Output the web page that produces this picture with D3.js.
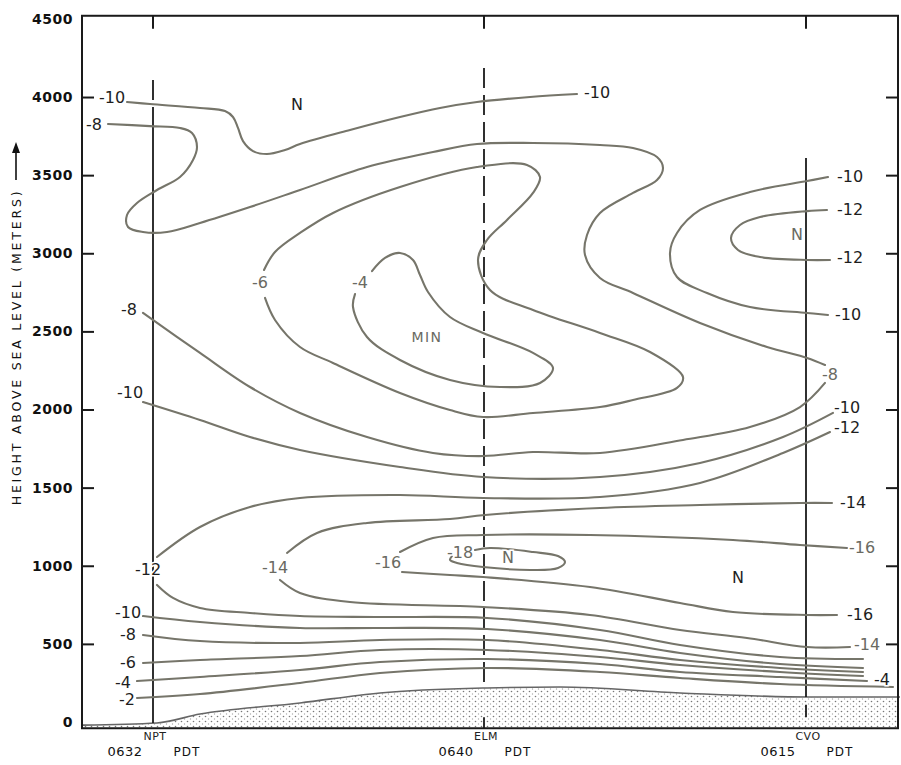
<!DOCTYPE html>
<html>
<head>
<meta charset="utf-8">
<script src="https://cdn.jsdelivr.net/npm/d3@7"></script>
<style>
  body { margin: 0; background: #fff; }
  svg { display: block; }
  text { font-family: "DejaVu Sans", sans-serif; }
</style>
</head>
<body>
<svg id="chart" width="901" height="765"></svg>
<script>
// height above sea level in metres, x = distance along the section (arbitrary units)
var yTicks = [0, 500, 1000, 1500, 2000, 2500, 3000, 3500, 4000, 4500];
var stations = ["NPT", "ELM", "CVO"];
var stationTimes = ["0632", "0640", "0615"];
var stationX = [18.25, 101, 181.5];
var stationDashed = [[4109, 3866], [4186, 218], null];
var stationSolid = [[3866, -6], null, [3610, 160]];
var stationBelow = [null, [30, -40], [110, 30]];

var ground = [[0.5,-20],[19.25,-6],[30,51],[55,122],[75,186],[101.75,218],[120,224],[150,186],[182.5,160],[205,160]];

// isotherms (deg C)
var c10Top = [[11.75,3968],[17.5,3955],[30,3930],[36.25,3910],[38.25,3872],[39.5,3802],[40.75,3718],[43.25,3654],[46.75,3635],[51.25,3661],[55,3699],[67.5,3789],[80,3872],[90,3930],[99.25,3968],[112.5,4000],[124.25,4019]];
var c8Upper = [[7,3827],[17.5,3814],[25,3802],[28,3770],[29.25,3680],[28.25,3597],[25,3488],[19.25,3405],[14.25,3322],[11.75,3245],[12,3168],[15.75,3136],[21.75,3136],[30,3194],[42.5,3296],[55,3405],[71.75,3552],[88.25,3648],[99.25,3699],[113.25,3706],[130,3693],[138.25,3674],[144.25,3616],[145.75,3546],[144.25,3469],[138.25,3386],[130,3258],[126.75,3117],[126.25,2989],[130,2842],[138.25,2746],[155,2554],[171.75,2400],[181.75,2330],[186.25,2285]];
var c8Lower = [[186.25,2170],[180,2016],[167.5,1888],[150.75,1805],[130,1722],[113.25,1728],[100.75,1702],[88.25,1722],[71.75,1824],[55,1978],[42.5,2144],[30,2362],[15.75,2618]];
var c6 = [[46,2893],[48.75,3008],[55,3130],[63.25,3258],[80,3424],[99.25,3552],[111.75,3565],[115,3488],[113.25,3386],[106.75,3213],[101.75,3085],[99.5,2957],[102.5,2765],[113.25,2637],[130,2490],[142.5,2368],[150.75,2208],[149.25,2138],[138.25,2061],[130,2016],[113.25,1978],[100.75,1952],[92.5,1997],[80,2106],[63.25,2298],[55,2400],[48.75,2573],[46.25,2714]];
var c4 = [[73,2886],[76.25,2970],[80,3002],[83.25,2957],[85,2861],[87,2752],[92.5,2592],[100.75,2490],[113.25,2362],[118.25,2266],[115,2170],[105,2144],[92.5,2189],[80,2317],[71.75,2464],[68.25,2656],[68.75,2739]];
var c10Right = [[187,3488],[181.75,3462],[167.5,3392],[155,3277],[149.25,3130],[147.5,3002],[149.25,2848],[156.75,2746],[167.5,2656],[181.75,2618],[187,2605]];
var c12Right = [[186.75,3277],[181.75,3270],[170,3232],[165,3181],[162.75,3098],[164.5,3021],[170,2976],[181.75,2957],[187.5,2957]];
var c10Mid = [[15.75,2048],[30,1933],[42.5,1824],[55,1741],[80,1632],[100.75,1568],[130,1568],[155,1658],[175.75,1824],[188.25,1978]];
var c12Upper = [[19.25,1056],[30,1248],[42.5,1376],[55,1434],[80,1453],[100.75,1434],[130,1440],[155,1530],[175.75,1722],[187.5,1856]];
var c12Lower = [[19.25,877],[23.25,794],[30,730],[42.5,698],[55,678],[75,672],[101.75,666],[130,589],[150,493],[175,416],[195.75,403]];
var c14Upper = [[51.75,1082],[59.25,1210],[71.75,1274],[92.5,1299],[101.25,1325],[130,1370],[155,1389],[180,1402],[188,1402]];
var c14Lower = [[50,909],[55,826],[67.5,768],[100.75,736],[127.5,685],[150,589],[166.75,538],[181.75,480],[192.5,480]];
var c16Upper = [[80,1088],[88.25,1178],[100.75,1197],[127.5,1197],[163.25,1165],[180,1133],[191.75,1114]];
var c16Lower = [[80.5,960],[92.5,941],[100.75,928],[127.5,864],[150,762],[163.25,704],[181.75,685],[189.25,685]];
var c18 = [[98.75,1101],[102.5,1114],[113.25,1088],[119.5,1062],[121.25,1024],[119.5,986],[113.25,973],[100.75,992],[94.25,1018],[92.5,1037],[93,1062]];
var c10Low = [[15.75,678],[30,640],[55,602],[75,602],[101.75,595],[130,525],[150,442],[175,371],[195.75,346]];
var c8Low = [[15.75,557],[30,518],[55,506],[75,525],[101.75,525],[130,461],[150,397],[175,346],[195.75,320]];
var c6Low = [[15.75,378],[30,397],[55,422],[75,461],[101.75,461],[130,416],[150,365],[175,320],[195.75,294]];
var c4Low = [[14.25,262],[30,288],[55,333],[75,384],[101.75,403],[130,371],[150,320],[175,288],[196.75,262]];
var c2Low = [[14.25,154],[30,179],[55,250],[75,314],[101.75,346],[130,320],[150,282],[175,243],[203.25,224]];

// contour labels: text, x, height, grey
var labels = [
  ["-10", 8, 4000, 0], ["-8", 3.5, 3827, 0], ["N", 54.25, 3955, 0], ["-10", 129.25, 4026, 0],
  ["-6", 45, 2810, 1], ["-4", 70, 2810, 1], ["MIN", 86.75, 2464, 1],
  ["-8", 12.25, 2637, 0], ["-10", 12.5, 2112, 0],
  ["-10", 192.5, 3494, 0], ["-12", 192.5, 3277, 0], ["N", 179.25, 3117, 1], ["-12", 192.5, 2976, 0], ["-10", 192, 2611, 0],
  ["-8", 187.5, 2221, 1], ["-10", 191.75, 2016, 0], ["-12", 191.75, 1882, 0], ["-14", 193.25, 1408, 0],
  ["-12", 17, 973, 0], ["-14", 48.75, 986, 1], ["-16", 77, 1018, 1], ["-18", 95, 1088, 1], ["N", 107, 1056, 1],
  ["-16", 195.5, 1114, 1], ["N", 164.5, 928, 0], ["-16", 195, 685, 0], ["-14", 196.75, 499, 1], ["-4", 200.5, 269, 0],
  ["-10", 12, 698, 0], ["-8", 12, 557, 0], ["-6", 12, 378, 0], ["-4", 10.75, 256, 0], ["-2", 11.75, 141, 0]
];

var svg = d3.select("#chart");
var x = d3.scaleLinear().domain([0, 205]).range([80, 900]);
var y = d3.scaleLinear().domain([0, 4500]).range([722, 18.9]);

var frameL = x(0.5), frameR = x(204.5), frameT = y(4520), frameB = y(-40);

// dotted terrain
var pat = svg.append("defs").append("pattern")
    .attr("id", "dots").attr("width", 6).attr("height", 5)
    .attr("patternUnits", "userSpaceOnUse");
pat.append("circle").attr("cx", 1.5).attr("cy", 1.5).attr("r", 0.8).attr("fill", "#777");
pat.append("circle").attr("cx", 4.5).attr("cy", 4).attr("r", 0.7).attr("fill", "#aaa");

var area = d3.area()
    .x(function(d) { return x(d[0]); })
    .y0(frameB)
    .y1(function(d) { return y(d[1]); })
    .curve(d3.curveMonotoneX);
svg.append("path").datum(ground)
    .attr("d", area)
    .attr("fill", "url(#dots)");
svg.append("path").datum(ground)
    .attr("d", area.lineY1())
    .attr("fill", "none").attr("stroke", "#666").attr("stroke-width", 1.6);

// frame
svg.append("rect")
    .attr("x", frameL).attr("y", frameT)
    .attr("width", frameR - frameL).attr("height", frameB - frameT)
    .attr("fill", "none").attr("stroke", "#1a1a1a").attr("stroke-width", 2);

// y axes, ticks point inward
var yAxis = d3.axisLeft(y).tickValues(yTicks).tickFormat(d3.format("d"))
    .tickSizeInner(-12).tickSizeOuter(0).tickPadding(9);
var gy = svg.append("g").attr("transform", "translate(" + frameL + ",0)").call(yAxis);
gy.select(".domain").remove();
gy.selectAll(".tick line").attr("stroke", "#1a1a1a").attr("stroke-width", 2);
gy.selectAll(".tick text")
    .attr("fill", "#111").style("font-size", "14px").style("font-weight", "bold")
    .style("letter-spacing", "0.5px")
    .style("font-family", "'DejaVu Sans', sans-serif");
gy.selectAll(".tick").filter(function(d) { return d === 0 || d === 4500; }).select("line").remove();

var yAxisR = d3.axisRight(y).tickValues(yTicks.slice(1, -1)).tickSizeInner(-12).tickSizeOuter(0).tickFormat("");
var gr = svg.append("g").attr("transform", "translate(" + frameR + ",0)").call(yAxisR);
gr.select(".domain").remove();
gr.selectAll(".tick line").attr("stroke", "#1a1a1a").attr("stroke-width", 2);

// y title
svg.append("text")
    .attr("transform", "translate(16,347) rotate(-90)")
    .attr("text-anchor", "middle").attr("dominant-baseline", "central")
    .attr("fill", "#111").style("font-size", "12.5px").style("letter-spacing", "2.8px")
    .text("HEIGHT ABOVE SEA LEVEL (METERS)");
svg.append("line")
    .attr("x1", 16).attr("x2", 16).attr("y1", 180).attr("y2", 150)
    .attr("stroke", "#111").attr("stroke-width", 1.6);
svg.append("path")
    .attr("d", "M16,142 L12,153 L20,153 Z").attr("fill", "#111");

// station verticals
stations.forEach(function(s, i) {
    var sx = x(stationX[i]);
    svg.append("line").attr("x1", sx).attr("x2", sx).attr("y1", frameT).attr("y2", frameT + 13)
        .attr("stroke", "#1a1a1a").attr("stroke-width", 2);
    if (stationDashed[i]) {
        svg.append("line").attr("x1", sx).attr("x2", sx)
            .attr("y1", y(stationDashed[i][0])).attr("y2", y(stationDashed[i][1]))
            .attr("stroke", "#1a1a1a").attr("stroke-width", 1.8)
            .attr("stroke-dasharray", "20,7");
    }
    if (stationSolid[i]) {
        svg.append("line").attr("x1", sx).attr("x2", sx)
            .attr("y1", y(stationSolid[i][0])).attr("y2", y(stationSolid[i][1]))
            .attr("stroke", "#1a1a1a").attr("stroke-width", 1.8);
    }
    if (stationBelow[i]) {
        svg.append("line").attr("x1", sx).attr("x2", sx)
            .attr("y1", y(stationBelow[i][0])).attr("y2", y(stationBelow[i][1]))
            .attr("stroke", "#1a1a1a").attr("stroke-width", 1.8);
    }
    svg.append("text").attr("x", sx + 2).attr("y", frameB + 12)
        .attr("text-anchor", "middle").attr("fill", "#222")
        .style("font-size", "11px").style("letter-spacing", "0.5px").text(s);
    svg.append("text").attr("x", sx - 28).attr("y", frameB + 28)
        .attr("text-anchor", "middle").attr("fill", "#111")
        .style("font-size", "13px").style("letter-spacing", "0.5px").text(stationTimes[i]);
    svg.append("text").attr("x", sx + 34).attr("y", frameB + 28)
        .attr("text-anchor", "middle").attr("fill", "#111")
        .style("font-size", "12px").style("letter-spacing", "1px").text("PDT");
});

// isotherm lines
var line = d3.line()
    .x(function(d) { return x(d[0]); })
    .y(function(d) { return y(d[1]); })
    .curve(d3.curveCatmullRom.alpha(0.5));

var contours = [c10Top, c8Upper, c8Lower, c6, c4, c10Right, c12Right, c10Mid,
    c12Upper, c12Lower, c14Upper, c14Lower, c16Upper, c16Lower, c18,
    c10Low, c8Low, c6Low, c4Low, c2Low];
svg.append("g").selectAll("path")
    .data(contours).enter()
    .append("path")
    .attr("d", line)
    .attr("fill", "none")
    .attr("stroke", "#76756a")
    .attr("stroke-width", 2.1)
    .attr("stroke-linecap", "round");

// labels
svg.append("g").selectAll("text")
    .data(labels).enter()
    .append("text")
    .attr("x", function(d) { return x(d[1]); })
    .attr("y", function(d) { return y(d[2]); })
    .attr("text-anchor", "middle")
    .attr("dominant-baseline", "central")
    .attr("fill", function(d) { return d[3] ? "#6a6a62" : "#1e1e1e"; })
    .attr("stroke", "#fff").attr("stroke-width", 3).attr("paint-order", "stroke")
    .style("font-size", function(d) { return d[0] === "MIN" ? "14px" : "16px"; })
    .style("letter-spacing", function(d) { return d[0] === "MIN" ? "1.5px" : "0px"; })
    .text(function(d) { return d[0]; });
</script>
</body>
</html>
